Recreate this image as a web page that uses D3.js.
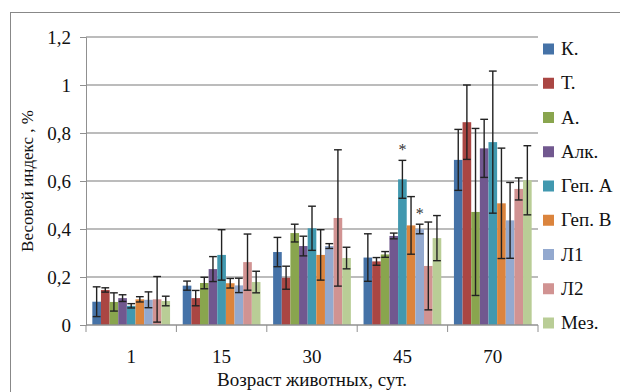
<!DOCTYPE html>
<html><head><meta charset="utf-8">
<script src="https://cdn.jsdelivr.net/npm/d3@7"></script>
<style>body{margin:0;background:#fff}svg{display:block}text{font-family:"Liberation Serif","DejaVu Serif","Noto Serif",serif}</style>
</head><body>
<svg id="c" width="620" height="392"></svg>
<script>
const categories = ["1","15","30","45","70"];
const seriesNames = ["К.","Т.","А.","Алк.","Геп. А","Геп. В","Л1","Л2","Мез."];
const seriesColors = ["#4572A7","#AA4643","#89A54E","#71588F","#4198AF","#DB843D","#93A9CF","#D19392","#B9CD96"];
const yTicks = [0,0.2,0.4,0.6,0.8,1,1.2];

const valK    = [0.097,0.164,0.304,0.281,0.688];
const valT    = [0.146,0.112,0.197,0.265,0.845];
const valA    = [0.096,0.175,0.383,0.294,0.471];
const valAlk  = [0.112,0.233,0.329,0.371,0.736];
const valGepA = [0.080,0.292,0.403,0.607,0.762];
const valGepB = [0.107,0.174,0.292,0.415,0.507];
const valL1   = [0.105,0.165,0.329,0.400,0.436];
const valL2   = [0.107,0.262,0.446,0.246,0.567];
const valMez  = [0.100,0.179,0.279,0.362,0.603];

const errK    = [0.062,0.019,0.061,0.099,0.127];
const errT    = [0.009,0.032,0.048,0.016,0.155];
const errA    = [0.038,0.024,0.037,0.012,0.348];
const errAlk  = [0.014,0.052,0.041,0.012,0.121];
const errGepA = [0.009,0.105,0.092,0.079,0.296];
const errGepB = [0.011,0.020,0.105,0.120,0.230];
const errL1   = [0.033,0.030,0.010,0.020,0.158];
const errL2   = [0.095,0.117,0.284,0.183,0.046];
const errMez  = [0.020,0.045,0.045,0.094,0.144];

// significance marks: [category, series]
const starMarks = [["45","Геп. А"],["45","Л1"]];

const values = [valK,valT,valA,valAlk,valGepA,valGepB,valL1,valL2,valMez];
const errors = [errK,errT,errA,errAlk,errGepA,errGepB,errL1,errL2,errMez];

const data = [];
categories.forEach((c,ci)=>seriesNames.forEach((s,si)=>{
  data.push({cat:c, ser:s, v:values[si][ci], e:errors[si][ci], color:seriesColors[si]});
}));

const svg = d3.select("#c");
const pL=86, pR=538, pT=37, pB=325;

// outer frame
svg.append("rect").attr("x",10.5).attr("y",12.5).attr("width",640).attr("height",420)
  .attr("fill","none").attr("stroke","#888").attr("stroke-width",1);

const y = d3.scaleLinear().domain([0,1.2]).range([pB,pT]);
const x0 = d3.scaleBand().domain(categories).range([pL,pR]).paddingInner(0.14).paddingOuter(0.07);
const x1 = d3.scaleBand().domain(seriesNames).range([0,x0.bandwidth()]);

// gridlines
svg.append("g").selectAll("line").data(yTicks.filter(t=>t>0)).join("line")
  .attr("x1",pL).attr("x2",pR).attr("y1",d=>y(d)).attr("y2",d=>y(d))
  .attr("stroke","#a6a6a6").attr("stroke-width",1.5);

// y axis
const yAxis = svg.append("g").attr("transform",`translate(${pL},0)`)
  .call(d3.axisLeft(y).tickValues(yTicks).tickSize(6).tickPadding(9)
    .tickFormat(d=>String(d).replace(".",",")));
yAxis.attr("font-family",null);
yAxis.select(".domain").attr("stroke","#909090");
yAxis.selectAll(".tick line").attr("stroke","#909090");
yAxis.selectAll("text").attr("font-size",19).attr("fill","#111");

// bars
const g = svg.append("g");
g.selectAll("rect").data(data).join("rect")
  .attr("x",d=>x0(d.cat)+x1(d.ser)).attr("width",x1.bandwidth())
  .attr("y",d=>y(d.v)).attr("height",d=>y(0)-y(d.v)).attr("fill",d=>d.color);

// error bars
const eb = svg.append("g").attr("stroke","#222").attr("stroke-width",1.4);
const cx = d=>x0(d.cat)+x1(d.ser)+x1.bandwidth()/2;
const cap = x1.bandwidth()*0.9;
data.forEach(d=>{
  eb.append("line").attr("x1",cx(d)).attr("x2",cx(d)).attr("y1",y(d.v+d.e)).attr("y2",y(Math.max(0,d.v-d.e)));
  [d.v+d.e, d.v-d.e].forEach(t=>{
    eb.append("line").attr("x1",cx(d)-cap/2).attr("x2",cx(d)+cap/2).attr("y1",y(t)).attr("y2",y(t));
  });
});

// stars
starMarks.forEach(([c,s])=>{
  const d = data.find(q=>q.cat===c&&q.ser===s);
  svg.append("text").attr("x",cx(d)).attr("y",y(d.v+d.e)-5).attr("text-anchor","middle")
    .attr("font-size",16).attr("fill","#333").text("*");
});

// x axis
const xb = d3.scaleLinear().domain([0,categories.length]).range([pL,pR]);
const xa = svg.append("g");
xa.append("line").attr("x1",pL).attr("x2",pR).attr("y1",pB).attr("y2",pB).attr("stroke","#909090").attr("stroke-width",1.5);
xa.selectAll("line.tk").data(d3.range(categories.length+1)).join("line").attr("class","tk")
  .attr("x1",d=>xb(d)).attr("x2",d=>xb(d)).attr("y1",pB).attr("y2",pB+7).attr("stroke","#909090");
xa.selectAll("text").data(categories).join("text")
  .attr("x",d=>x0(d)+x0.bandwidth()/2).attr("y",363).attr("text-anchor","middle")
  .attr("font-size",19).attr("fill","#111").text(d=>d);

// axis titles
svg.append("text").attr("x",312).attr("y",386).attr("text-anchor","middle")
  .attr("font-size",19).attr("fill","#111").text("Возраст животных, сут.");
svg.append("text").attr("transform","translate(33,181) rotate(-90)").attr("text-anchor","middle")
  .attr("font-size",17).attr("fill","#111").text("Весовой индекс , %");

// legend
const lg = svg.append("g");
const ly = d3.scalePoint().domain(seriesNames).range([49,323]);
seriesNames.forEach((s,i)=>{
  lg.append("rect").attr("x",543).attr("y",ly(s)-5.5).attr("width",11).attr("height",11).attr("fill",seriesColors[i]);
  lg.append("text").attr("x",561).attr("y",ly(s)+6).attr("font-size",19).attr("fill","#111").text(s);
});
</script>
</body></html>
